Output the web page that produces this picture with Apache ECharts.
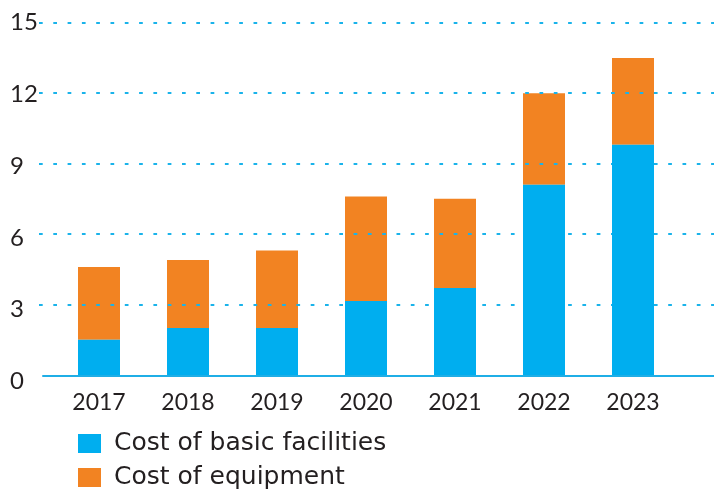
<!DOCTYPE html>
<html>
<head>
<meta charset="utf-8">
<script src="https://cdn.jsdelivr.net/npm/echarts@6/dist/echarts.min.js"></script>
<style>
  html, body { margin: 0; padding: 0; background: #fff; }
  #chart { width: 714px; height: 490px; }
</style>
</head>
<body>
<div id="chart"></div>
<script>
// Annual costs, stacked: basic facilities + equipment
const years = ['2017', '2018', '2019', '2020', '2021', '2022', '2023'];
const basicFacilities = [1.5, 2.0, 2.0, 3.15, 3.7, 8.1, 9.8];
const equipment = [3.1, 2.9, 3.3, 4.45, 3.8, 3.9, 3.7];
const seriesNames = ['Cost of basic facilities', 'Cost of equipment'];
const yMin = 0, yMax = 15, yStep = 3;

const BLUE = '#00AEEF';
const ORANGE = '#F28322';
const TEXT = '#231F20';
const FONT = 'Lato, "Noto Sans", sans-serif';
const LEGEND_FONT = '"DejaVu Sans", Lato, sans-serif';

const chart = echarts.init(document.getElementById('chart'), null, { renderer: 'canvas' });

// one legend entry per row, stacked under the chart
function legendRow(name, top) {
  return {
    data: [name],
    left: 78, top: top,
    padding: 0,
    itemWidth: 23, itemHeight: 19,
    icon: 'rect',
    textStyle: { color: TEXT, fontSize: 25, fontFamily: LEGEND_FONT, lineHeight: 24, padding: [0, 0, 0, 8] }
  };
}

chart.setOption({
  animation: false,
  backgroundColor: '#fff',
  textStyle: { fontFamily: FONT },
  grid: [
    // 0: bars
    { left: 54.5, right: 36.5, top: 22.7, bottom: 115, containLabel: false },
    // 1: dotted value lines
    { left: 39, right: 0, top: 22.7, bottom: 115, containLabel: false },
    // 2: baseline
    { left: 43, right: 0, top: 22.7, bottom: 114, containLabel: false },
    // 3: value labels
    { left: 39, right: 0, top: 22.5, bottom: 108.5, containLabel: false }
  ],
  xAxis: [
    {
      gridIndex: 0, type: 'category', data: years,
      axisLine: { show: false }, axisTick: { show: false },
      axisLabel: { color: TEXT, fontSize: 23, fontFamily: FONT, margin: 16 }
    },
    { gridIndex: 1, type: 'value', show: false },
    {
      gridIndex: 2, type: 'value', z: 5,
      axisLine: { show: true, lineStyle: { color: '#1FAEE6', width: 2 } },
      axisTick: { show: false }, axisLabel: { show: false }, splitLine: { show: false }
    },
    { gridIndex: 3, type: 'value', show: false }
  ],
  yAxis: [
    { gridIndex: 0, type: 'value', min: yMin, max: yMax, interval: yStep, show: false },
    {
      gridIndex: 1, type: 'value', min: yMin, max: yMax, interval: yStep, z: 2,
      axisLine: { show: false }, axisTick: { show: false }, axisLabel: { show: false },
      splitLine: {
        show: true, showMinLine: false,
        lineStyle: { color: '#1AB3EA', width: 2, type: [3.7, 10.6] }
      }
    },
    { gridIndex: 2, type: 'value', show: false, min: yMin, max: yMax },
    {
      gridIndex: 3, type: 'value', min: yMin, max: yMax, interval: yStep,
      axisLine: { show: false }, axisTick: { show: false }, splitLine: { show: false },
      axisLabel: { color: TEXT, fontSize: 24, fontFamily: FONT, align: 'left', margin: 29 }
    }
  ],
  legend: [
    legendRow(seriesNames[0], 431),
    legendRow(seriesNames[1], 465)
  ],
  series: [
    {
      name: seriesNames[0], type: 'bar', stack: 'cost', data: basicFacilities,
      xAxisIndex: 0, yAxisIndex: 0, barWidth: 42, z: 3,
      itemStyle: { color: BLUE }
    },
    {
      name: seriesNames[1], type: 'bar', stack: 'cost', data: equipment,
      xAxisIndex: 0, yAxisIndex: 0, barWidth: 42, z: 1,
      itemStyle: { color: ORANGE }
    }
  ]
});
</script>
</body>
</html>
